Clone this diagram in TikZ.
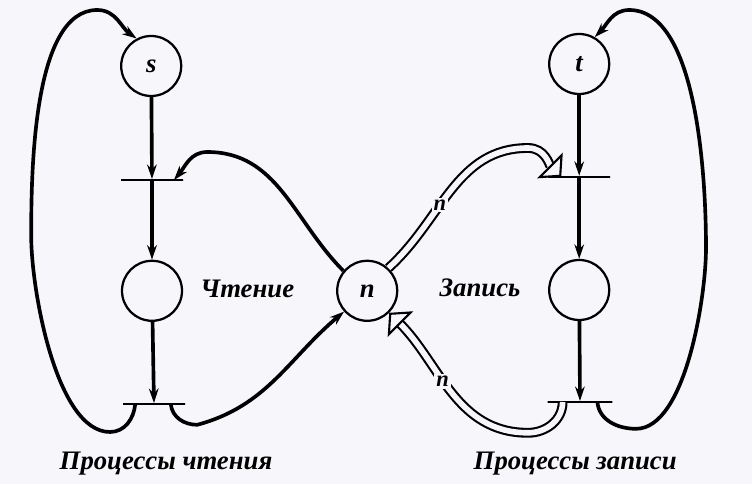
\documentclass[tikz,border=0pt]{standalone}
\usepackage{fontspec}
\setmainfont{Liberation Serif}
\usetikzlibrary{arrows.meta, positioning, calc}
\definecolor{paper}{RGB}{247,246,250}

\begin{document}
\begin{tikzpicture}[
    every node/.style={font=\bfseries\itshape\fontsize{19}{22}\selectfont},
    place/.style={circle, draw, line width=1.6pt, minimum size=1.5cm, inner sep=0pt},
    trans/.style={draw, line width=1.4pt, minimum width=1.55cm, minimum height=0pt, inner sep=0pt},
    arc/.style={-{Stealth[length=3.6mm, width=2.4mm]}, line width=2.6pt},
    multi/.style={-{Triangle[open, length=4mm, width=9mm, line width=1.5pt 0, fill=paper]},
        line width=1.5pt, double=paper, double distance=4pt},
    weight/.style={fill=paper, inner sep=1.5pt, font=\bfseries\itshape\fontsize{16}{18}\selectfont}
]
\useasboundingbox (0,0) rectangle (18.8,12.1);
\fill[paper] (0,0) rectangle (18.8,12.1);

% places and transitions
\node[place] (s) at (3.78,10.45) {s};
\node[trans] (rdin) at (3.8,7.6) {};
\node[place] (rdp) at (3.8,4.83) {};
\node[trans] (rdout) at (3.85,2.0) {};
\node[place] (n) at (9.18,4.83) {n};
\node[place] (t) at (14.48,10.5) {t};
\node[trans] (wrin) at (14.48,7.68) {};
\node[place] (wrp) at (14.48,4.85) {};
\node[trans, minimum width=1.62cm] (wrout) at (14.5,2.05) {};

% labels
\node (rdlbl) at (6.18,4.88) {Чтение};
\node (wrlbl) at (12.0,4.9) {Запись};
\node (rdproc) at (4.15,0.5) {Процессы чтения};
\node (wrproc) at (14.38,0.5) {Процессы записи};

% reading
\draw[arc] (s) -- (rdin);
\draw[arc] (rdin) -- (rdp);
\draw[arc] (rdp) -- (rdout);
\draw[arc] ([xshift=0.33cm]rdout.west) to[out=-95,in=0] (2.75,1.3)
    to[out=180,in=-90, looseness=0.65] (0.78,6.2) to[out=90,in=180, looseness=0.7] (2.43,11.85)
    to[out=0,in=145] (s.118);
\draw[arc] ([xshift=-0.38cm]rdout.east) to[out=-85,in=180] (4.93,1.48)
    to[out=15,in=-140] (n.222);
\draw[arc] (n.140) to[out=135,in=0] (5.18,8.3) to[out=180,in=50] ([xshift=-0.25cm]rdin.east);

% writing
\draw[arc] (t) -- (wrin);
\draw[arc] (wrin) -- (wrp);
\draw[arc] (wrp) -- (wrout);
\draw[arc] ([xshift=-0.4cm]wrout.east) to[out=-85,in=180] (15.9,1.38)
    to[out=0,in=-90, looseness=0.65] (17.65,5.9) to[out=90,in=0, looseness=0.7] (15.73,11.85)
    to[out=180,in=45] (t.60);
\draw[multi] (n.47) to[out=42,in=180] node[weight, pos=0.4] {n} (13.2,8.4)
    to[out=0,in=135] ([xshift=0.35cm]wrin.west);
\draw[multi] ([xshift=0.4cm]wrout.west) to[out=-90,in=0] (13.2,1.28)
    to[out=180,in=-45] node[weight, pos=0.57] {n} (n.-45);

\end{tikzpicture}
\end{document}
